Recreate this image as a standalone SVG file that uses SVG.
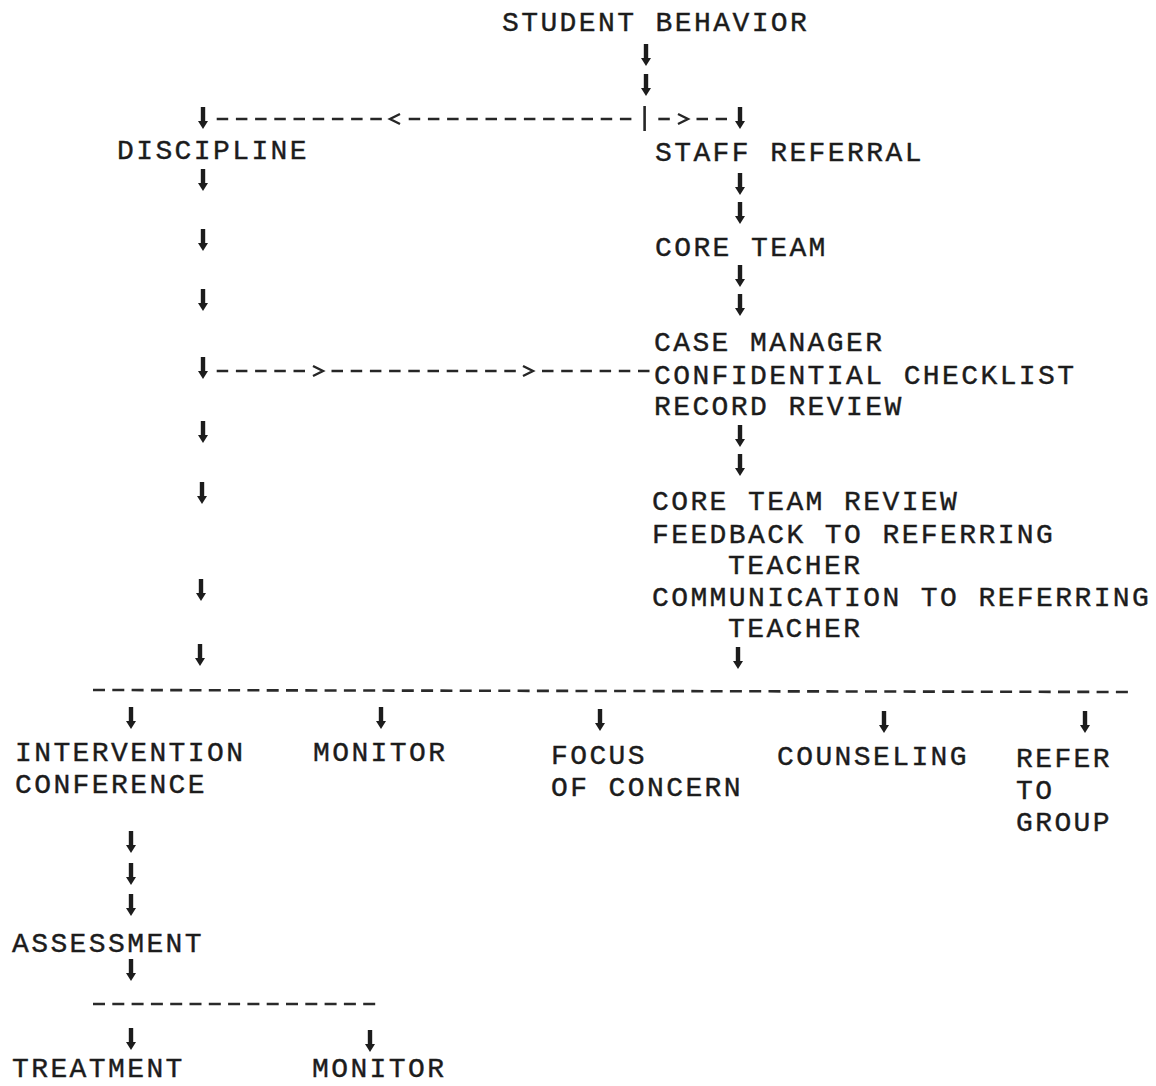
<svg xmlns="http://www.w3.org/2000/svg" xmlns:xlink="http://www.w3.org/1999/xlink" width="1156" height="1086" viewBox="0 0 1156 1086">
<style>
  text { font-family: "Liberation Mono", "Courier New", monospace; font-size: 28px; letter-spacing: 2.4px; fill: #1c1c1c; stroke: #1c1c1c; stroke-width: 0.4; }
  .dash { stroke: #262626; stroke-width: 2.6; fill: none; stroke-dasharray: 11.5 7.7; }
  .long { stroke: #2a2a2a; stroke-width: 2.6; fill: none; stroke-dasharray: 12 7.3; }
  .chev { stroke: #262626; stroke-width: 2.4; fill: none; }
  .bar { stroke: #262626; stroke-width: 2.6; }
</style>
<defs>
  <g id="arr">
    <rect x="-2.2" y="-11" width="4.4" height="15" fill="#1c1c1c"/>
    <polygon points="-5,3 5,3 0,11" fill="#1c1c1c"/>
  </g>
</defs>
<rect width="1156" height="1086" fill="#ffffff"/>

<g id="connectors">
  <!-- top split row -->
  <use xlink:href="#arr" x="646" y="55"/>
  <use xlink:href="#arr" x="646" y="85"/>
  <use xlink:href="#arr" x="203" y="118"/>
  <line class="dash" x1="216.7" y1="119" x2="385" y2="119"/>
  <polyline class="chev" points="400,114 390,119 400,124"/>
  <line class="dash" x1="408.7" y1="119" x2="636" y2="119"/>
  <line class="bar" x1="644.6" y1="106" x2="644.6" y2="131"/>
  <line class="dash" x1="658.3" y1="119" x2="670" y2="119"/>
  <polyline class="chev" points="678,114 688,119 678,124"/>
  <line class="dash" x1="696.5" y1="119" x2="727" y2="119"/>
  <use xlink:href="#arr" x="740" y="118"/>

  <!-- discipline column -->
  <use xlink:href="#arr" x="203" y="180"/>
  <use xlink:href="#arr" x="203" y="240"/>
  <use xlink:href="#arr" x="203" y="300"/>
  <use xlink:href="#arr" x="203" y="368"/>
  <use xlink:href="#arr" x="203" y="432"/>
  <use xlink:href="#arr" x="202" y="493"/>
  <use xlink:href="#arr" x="201" y="590"/>
  <use xlink:href="#arr" x="200" y="655"/>

  <!-- discipline to case manager row -->
  <line class="dash" x1="216.7" y1="371" x2="306" y2="371"/>
  <polyline class="chev" points="313,366 323,371 313,376"/>
  <line class="dash" x1="331.5" y1="371" x2="518" y2="371"/>
  <polyline class="chev" points="523,366 533,371 523,376"/>
  <line class="dash" x1="542" y1="371" x2="654" y2="371"/>

  <!-- referral column -->
  <use xlink:href="#arr" x="740" y="184"/>
  <use xlink:href="#arr" x="740" y="213"/>
  <use xlink:href="#arr" x="740" y="276"/>
  <use xlink:href="#arr" x="740" y="305"/>
  <use xlink:href="#arr" x="740" y="436"/>
  <use xlink:href="#arr" x="740" y="465"/>
  <use xlink:href="#arr" x="738" y="658"/>

  <!-- main split -->
  <line class="long" x1="93" y1="690" x2="1130" y2="692"/>
  <use xlink:href="#arr" x="131" y="718"/>
  <use xlink:href="#arr" x="381" y="718"/>
  <use xlink:href="#arr" x="600" y="720"/>
  <use xlink:href="#arr" x="884" y="722"/>
  <use xlink:href="#arr" x="1085" y="722"/>

  <!-- intervention column -->
  <use xlink:href="#arr" x="131" y="842"/>
  <use xlink:href="#arr" x="131" y="874"/>
  <use xlink:href="#arr" x="131" y="905"/>
  <use xlink:href="#arr" x="131" y="970"/>
  <line class="long" x1="93" y1="1004" x2="378" y2="1004"/>
  <use xlink:href="#arr" x="131" y="1039"/>
  <use xlink:href="#arr" x="370" y="1041"/>
</g>

<g id="student-behavior"><text x="502" y="31">STUDENT BEHAVIOR</text></g>
<g id="discipline"><text x="117" y="159">DISCIPLINE</text></g>
<g id="staff-referral"><text x="655" y="161">STAFF REFERRAL</text></g>
<g id="core-team"><text x="655" y="256">CORE TEAM</text></g>
<g id="case-manager">
  <text x="654" y="351">CASE MANAGER</text>
  <text x="654" y="384">CONFIDENTIAL CHECKLIST</text>
  <text x="654" y="415">RECORD REVIEW</text>
</g>
<g id="core-team-review">
  <text x="652" y="510">CORE TEAM REVIEW</text>
  <text x="652" y="543">FEEDBACK TO REFERRING</text>
  <text x="728" y="574">TEACHER</text>
  <text x="652" y="606">COMMUNICATION TO REFERRING</text>
  <text x="728" y="637">TEACHER</text>
</g>
<g id="intervention-conference">
  <text x="15" y="761">INTERVENTION</text>
  <text x="15" y="793">CONFERENCE</text>
</g>
<g id="monitor-1"><text x="313" y="761">MONITOR</text></g>
<g id="focus-of-concern">
  <text x="551" y="764">FOCUS</text>
  <text x="551" y="796">OF CONCERN</text>
</g>
<g id="counseling"><text x="777" y="765">COUNSELING</text></g>
<g id="refer-to-group">
  <text x="1016" y="767">REFER</text>
  <text x="1016" y="799">TO</text>
  <text x="1016" y="831">GROUP</text>
</g>
<g id="assessment"><text x="12" y="952">ASSESSMENT</text></g>
<g id="treatment"><text x="12" y="1077">TREATMENT</text></g>
<g id="monitor-2"><text x="312" y="1077">MONITOR</text></g>
</svg>
